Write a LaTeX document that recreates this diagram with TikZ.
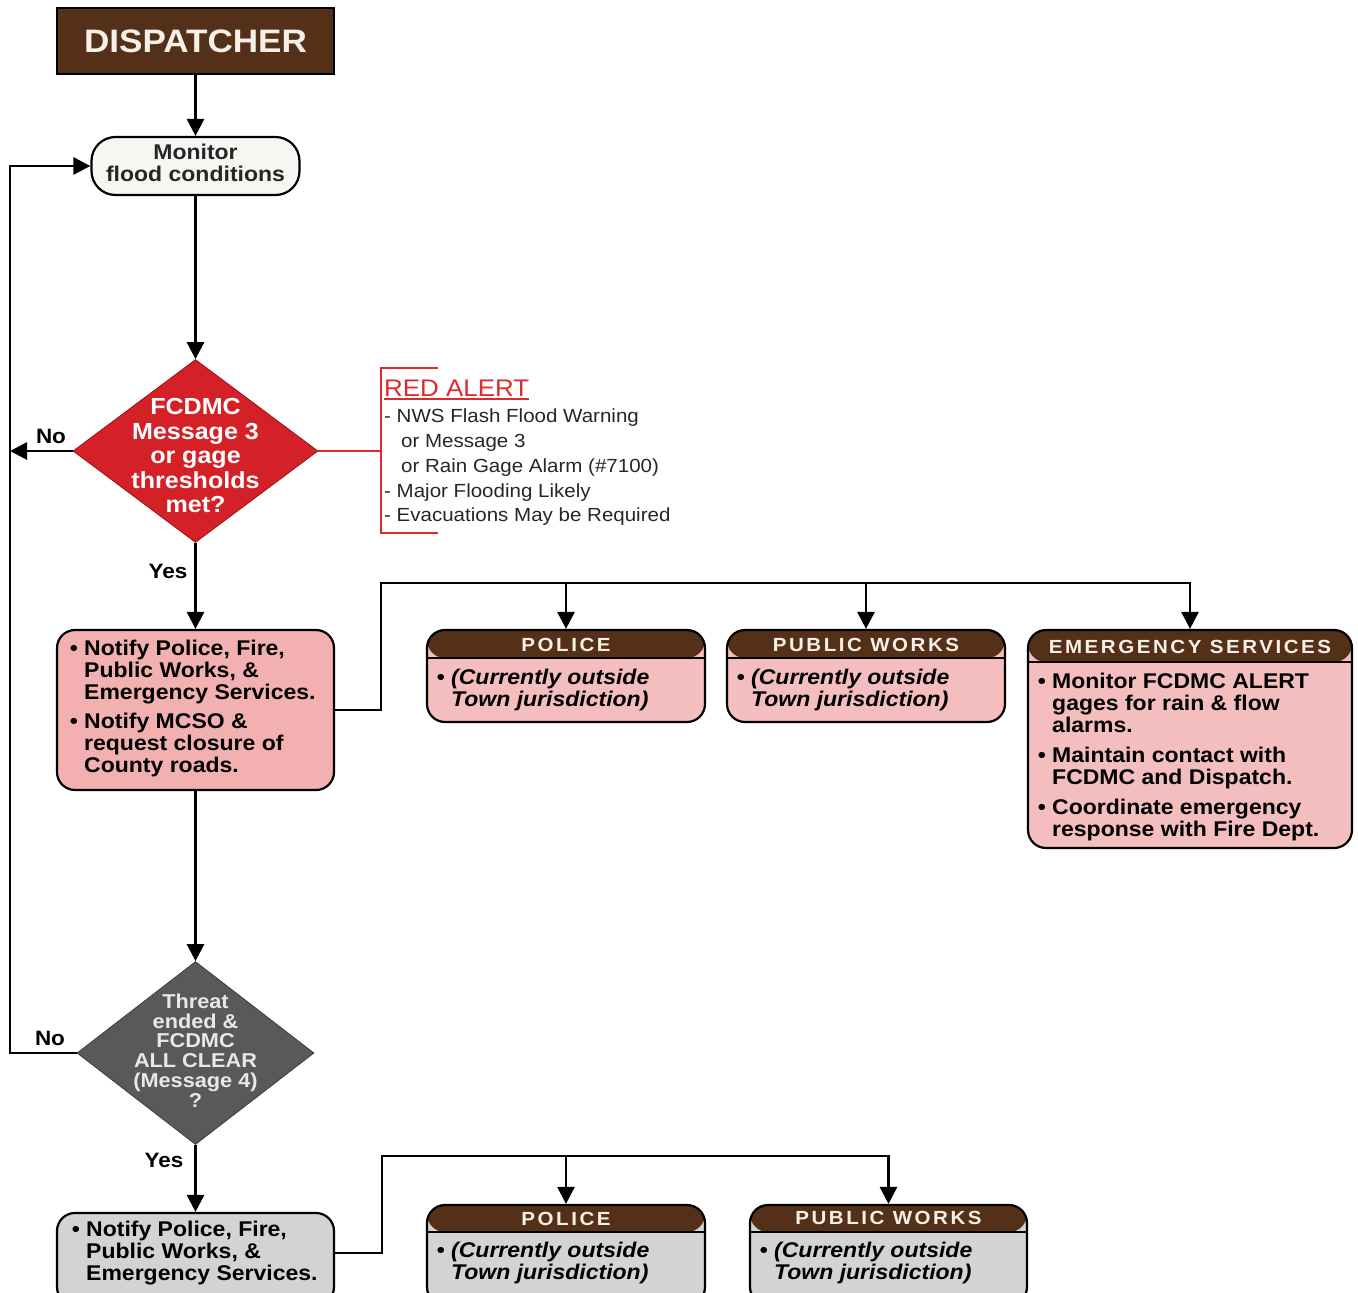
\documentclass[tikz,border=0pt]{standalone}
\usepackage{fontspec}
\setmainfont{Liberation Sans}[FakeStretch=1.08]
\newfontfamily\hdfont{Liberation Sans}[FakeStretch=1.08,LetterSpace=13.5]
\usetikzlibrary{shapes.geometric,arrows.meta}
\definecolor{hdbrown}{RGB}{85,48,24}
\definecolor{pinkA}{RGB}{242,176,176}
\definecolor{pinkB}{RGB}{244,190,190}
\definecolor{alertred}{RGB}{212,32,39}
\definecolor{redline}{RGB}{225,40,45}
\definecolor{darkdia}{RGB}{89,89,89}
\definecolor{greybox}{RGB}{211,211,211}
\definecolor{monfill}{RGB}{247,246,243}
\definecolor{cream}{RGB}{246,240,232}
\newcommand{\fsz}[2]{\fontsize{#1}{#2}\selectfont}
\begin{document}
\begin{tikzpicture}[x=1pt,y=-1pt,
 conn/.style={line width=2.8pt},
 arr/.style={conn,-{Triangle[length=17pt,width=17pt]}},
 box/.style={draw=black,line width=2.2pt,rounded corners=18pt,inner sep=0pt},
 card/.style 2 args={box,fill=#1,path picture={
   \fill[hdbrown] (path picture bounding box.north west) rectangle ([yshift=-#2]path picture bounding box.north east);
   \draw[line width=2.2pt] ([yshift=-#2]path picture bounding box.north west) -- ([yshift=-#2]path picture bounding box.north east);}},
 title/.style={inner sep=0pt,text=cream,font=\hdfont\bfseries\fsz{19}{19}},
 body/.style={inner sep=0pt,align=left,font=\bfseries\fsz{21.3}{22}},
 ibody/.style={inner sep=0pt,align=left,font=\bfseries\itshape\fsz{21.3}{22}},
 lab/.style={inner sep=0pt,font=\bfseries\fsz{20.8}{22}},
 redl/.style={draw=redline,line width=1.3pt},
]
\useasboundingbox (0,0) rectangle (1358,1293);

% main column
\node[draw=black,line width=2.2pt,fill=hdbrown,minimum width=277pt,minimum height=66pt,inner sep=0pt,text=cream,font=\bfseries\fsz{32.5}{32}] (disp) at (195.5,41) {DISPATCHER};
\node[box,rounded corners=24pt,fill=monfill,minimum width=208pt,minimum height=58pt] (mon) at (195.5,166) {};
\node[inner sep=0pt,align=center,text=black!85,font=\bfseries\fsz{21.3}{22}] (mont) at (195.5,162.5) {Monitor\\flood conditions};

\node[diamond,fill=alertred,draw=alertred!70!black,line width=0.8pt,minimum width=245pt,minimum height=183pt,inner sep=0pt] (d1) at (195.5,451) {};
\node[inner sep=0pt,align=center,text=white,font=\bfseries\fsz{23.2}{24.5}] (d1t) at (195.5,456) {FCDMC\\Message 3\\or gage\\thresholds\\met?};

\node[box,fill=pinkA,minimum width=277pt,minimum height=160pt] (n1) at (195.5,710) {};
\node[body,anchor=north west] (n1t) at (84,640) {\llap{\textbullet\ }Notify Police, Fire,\\Public Works, \&\\Emergency Services.\\[7pt]\llap{\textbullet\ }Notify MCSO \&\\request closure of\\County roads.};

\node[diamond,fill=darkdia,draw=darkdia!70!black,line width=0.8pt,minimum width=237pt,minimum height=183pt,inner sep=0pt] (d2) at (195.5,1053) {};
\node[inner sep=0pt,align=center,text=black!9,font=\bfseries\fsz{20.1}{19.8}] (d2t) at (195.5,1050.5) {Threat\\ended \&\\FCDMC\\ALL CLEAR\\(Message 4)\\?};

\node[box,fill=greybox,minimum width=277pt,minimum height=92pt] (n2) at (195.5,1259) {};
\node[body,anchor=north west] (n2t) at (86,1221) {\llap{\textbullet\ }Notify Police, Fire,\\Public Works, \&\\Emergency Services.};

% red alert annotation
\node[inner sep=0pt,anchor=west,text=redline,font=\fsz{24}{24}] (ra) at (384,388) {RED ALERT};
\draw[redline,line width=1.8pt] ([yshift=-2.5pt]ra.south west) -- ([yshift=-2.5pt]ra.south east);
\node[inner sep=0pt,anchor=north west,align=left,text=black!85,font=\fsz{19}{24.75}] (rat) at (384,409) {- NWS Flash Flood Warning\\\hspace*{17pt}or Message 3\\\hspace*{17pt}or Rain Gage Alarm (\#7100)\\- Major Flooding Likely\\- Evacuations May be Required};
\coordinate (brk) at (381,451);
\draw[redl] (d1.east) -- (brk);
\draw[redl] (438,368) -- (381,368) -- (381,533) -- (438,533);

% first row of cards
\node[card={pinkB}{28pt},minimum width=278pt,minimum height=92pt] (pol1) at (566,676) {};
\node[title] (pol1h) at (566,645) {POLICE};
\node[ibody,anchor=north west] (pol1b) at (451,669) {\llap{\upshape\textbullet\ }(Currently outside\\Town jurisdiction)};

\node[card={pinkB}{28pt},minimum width=278pt,minimum height=92pt] (pw1) at (866,676) {};
\node[title] (pw1h) at (866,645) {PUBLIC WORKS};
\node[ibody,anchor=north west] (pw1b) at (751,669) {\llap{\upshape\textbullet\ }(Currently outside\\Town jurisdiction)};

\node[card={pinkB}{32pt},minimum width=324pt,minimum height=218pt] (es1) at (1190,739) {};
\node[title] (es1h) at (1190,647) {EMERGENCY SERVICES};
\node[body,anchor=north west] (es1b) at (1052,673) {\llap{\textbullet\ }Monitor FCDMC ALERT\\gages for rain \& flow\\alarms.\\[8pt]\llap{\textbullet\ }Maintain contact with\\FCDMC and Dispatch.\\[8pt]\llap{\textbullet\ }Coordinate emergency\\response with Fire Dept.};

% second row of cards
\node[card={greybox}{27pt},minimum width=278pt,minimum height=100pt] (pol2) at (566,1255) {};
\node[title] (pol2h) at (566,1219) {POLICE};
\node[ibody,anchor=north west] (pol2b) at (451,1242) {\llap{\upshape\textbullet\ }(Currently outside\\Town jurisdiction)};

\node[card={greybox}{27pt},minimum width=277pt,minimum height=100pt] (pw2) at (888.5,1255) {};
\node[title] (pw2h) at (888.5,1218) {PUBLIC WORKS};
\node[ibody,anchor=north west] (pw2b) at (774,1242) {\llap{\upshape\textbullet\ }(Currently outside\\Town jurisdiction)};

% connectors
\coordinate (loopL) at (10,0);
\draw[arr] (disp.south) -- (mon.north);
\draw[arr] (mon.south) -- (d1.north);
\draw[arr] (d1.west) -- (d1.west -| loopL);
\draw[arr] (d2.west) -- (d2.west -| loopL) -- (mon.west -| loopL) -- (mon.west);
\node[lab] (no1) at (51,436) {No};
\node[lab] (no2) at (50,1038) {No};
\draw[arr] (d1.south) -- (n1.north);
\node[lab] (yes1) at (168,571) {Yes};
\coordinate (bus1) at (381,583);
\draw[arr] (n1.east) -| (bus1) -- (bus1 -| es1.north) -- (es1.north);
\draw[arr] (bus1 -| pol1.north) -- (pol1.north);
\draw[arr] (bus1 -| pw1.north) -- (pw1.north);
\draw[arr] (n1.south) -- (d2.north);
\draw[arr] (d2.south) -- (n2.north);
\node[lab] (yes2) at (164,1160) {Yes};
\coordinate (bus2) at (382,1156);
\draw[arr] ([yshift=6pt]n2.east) -| (bus2) -- (bus2 -| pw2.north) -- (pw2.north);
\draw[arr] (bus2 -| pol2.north) -- (pol2.north);
\end{tikzpicture}
\end{document}
